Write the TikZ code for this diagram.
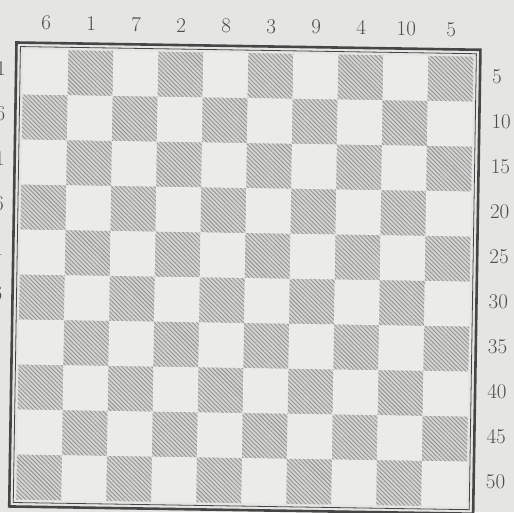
\documentclass[tikz,border=0pt]{standalone}
\usepackage{tikz}
\usetikzlibrary{patterns.meta}
\definecolor{scanpaper}{RGB}{229,229,227}
\definecolor{lightsq}{RGB}{235,235,233}
\definecolor{darksq}{RGB}{212,212,210}
\definecolor{hatchgray}{RGB}{148,148,148}
\definecolor{boardline}{RGB}{70,70,70}
\definecolor{numgray}{RGB}{78,78,78}

\begin{document}
\begin{tikzpicture}[x=1pt,y=-1pt,
  darkcell/.style={preaction={fill=darksq},
    pattern={Lines[angle=-45,distance=3pt,line width=0.9pt]}, pattern color=hatchgray},
  lightcell/.style={fill=lightsq},
  numlabel/.style={font=\fontsize{21}{25}\selectfont, text=numgray, inner sep=0pt}]
% page of the scan
\clip (0,0) rectangle (514,512);
\fill[scanpaper] (0,0) rectangle (514,512);

\def\sq{45}
\def\off{7}

\begin{scope}[shift={(16.5,42.5)}, rotate=-0.9]
% squares, light one in the top left corner
\foreach \r in {0,...,9}{
  \foreach \c in {0,...,9}{
    \ifodd\numexpr\r+\c\relax
      \fill[darkcell] ({\off+\c*\sq},{\off+\r*\sq}) rectangle ++(\sq,\sq);
    \else
      \fill[lightcell] ({\off+\c*\sq},{\off+\r*\sq}) rectangle ++(\sq,\sq);
    \fi
  }
}

% double border
\draw[boardline, line width=2.6pt] (0,0) rectangle (464,464);
\draw[boardline, line width=0.8pt] (4,4) rectangle (460,460);

% column numbers on top
\foreach \n [count=\i from 0] in {6,1,7,2,8,3,9,4,10,5}{
  \node[numlabel] (top\i) at ({\off+\i*\sq+\sq/2},-20) {\n};
}

% row numbers right (5,10,...) and left (1,6,..., cut by the page edge)
\foreach \r in {0,...,9}{
  \pgfmathtruncatemacro\rnum{5*(\r+1)}
  \node[numlabel, anchor=west] (right\r) at (476,{\off+\r*\sq+\sq/2-3}) {\rnum};
}
\foreach \r in {0,...,5}{
  \pgfmathtruncatemacro\lnum{5*\r+1}
  \node[numlabel, anchor=east] (left\r) at (-10,{\off+\r*\sq+\sq/2-3}) {\lnum};
}
\end{scope}
\end{tikzpicture}
\end{document}
